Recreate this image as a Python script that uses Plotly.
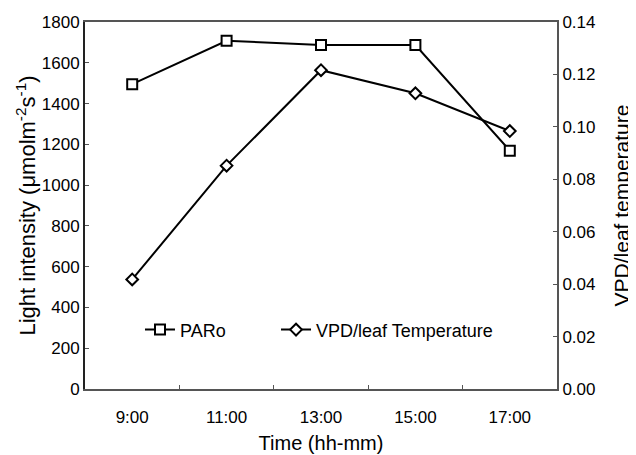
import plotly.graph_objects as go

times = ["9:00", "11:00", "13:00", "15:00", "17:00"]
paro = [1495, 1708, 1687, 1687, 1169]
vpd = [0.0418, 0.0852, 0.1216, 0.1128, 0.0984]

FONT = "Liberation Sans, Arial, sans-serif"
AX = "#555555"

fig = go.Figure()
fig.add_trace(go.Scatter(
    x=times, y=paro, name="PARo", mode="lines+markers",
    line=dict(color="black", width=2),
    marker=dict(symbol="square", size=10, color="white",
                line=dict(color="black", width=2)),
    legend="legend",
))
fig.add_trace(go.Scatter(
    x=times, y=vpd, name="VPD/leaf Temperature", mode="lines+markers",
    yaxis="y2",
    line=dict(color="black", width=2),
    marker=dict(symbol="diamond", size=9, color="white",
                line=dict(color="black", width=2)),
    legend="legend2",
))

leg_common = dict(orientation="h", yanchor="middle", xanchor="left",
                  bgcolor="rgba(0,0,0,0)", font=dict(size=18), itemwidth=30)

fig.update_layout(
    width=636, height=455,
    margin=dict(l=77, r=87, t=14, b=74, autoexpand=False),
    paper_bgcolor="white", plot_bgcolor="white",
    font=dict(family=FONT, size=17, color="black"),
    showlegend=True,
    legend=dict(x=0.1165, y=0.161, **leg_common),
    legend2=dict(x=0.4047, y=0.161, **leg_common),
    xaxis=dict(
        type="category", range=[-0.5, 4.5], tickson="boundaries",
        ticks="inside", ticklen=4, tickcolor=AX,
        showline=True, linecolor=AX, linewidth=2, mirror=True,
        showgrid=False, zeroline=False, automargin=False,
        tickfont=dict(size=17), ticklabelstandoff=12,
        title=dict(text="Time (hh-mm)", font=dict(size=20), standoff=10),
    ),
    yaxis=dict(
        range=[0, 1800], dtick=200,
        ticks="inside", ticklen=4, tickcolor=AX,
        showline=True, linecolor="#222222", linewidth=2,
        showgrid=False, zeroline=False, automargin=False,
        tickfont=dict(size=17),
        title=dict(text="Light intensity (μmolm<sup>-2</sup>s<sup>-1</sup>)",
                   font=dict(size=22), standoff=0),
    ),
    yaxis2=dict(
        range=[0, 0.14], dtick=0.02, tickformat=".2f",
        overlaying="y", side="right",
        ticks="inside", ticklen=4, tickcolor=AX,
        showline=True, linecolor=AX, linewidth=2,
        showgrid=False, zeroline=False, automargin=False,
        tickfont=dict(size=17),
        title=dict(text="VPD/leaf temperature", font=dict(size=21), standoff=20),
    ),
)

fig.write_html("out.html")
